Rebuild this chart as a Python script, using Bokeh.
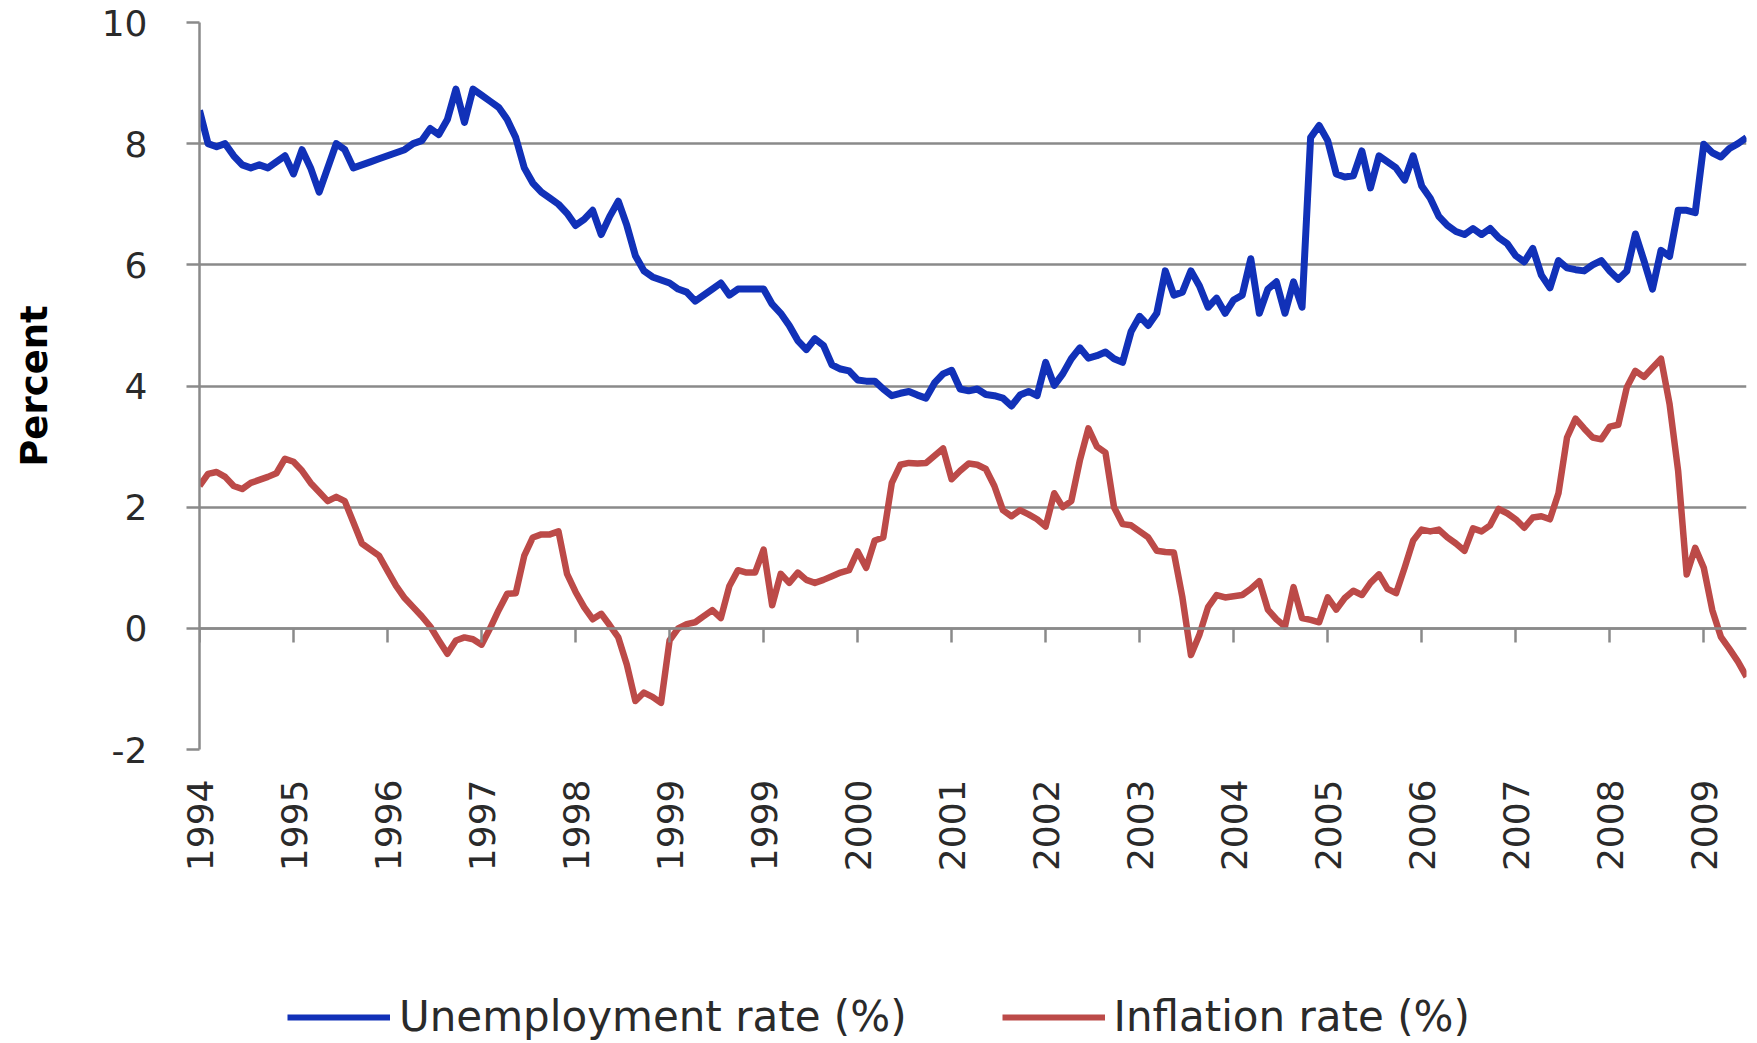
import math
from bokeh.plotting import figure
from bokeh.layouts import column
from bokeh.models import Range1d, LinearAxis, FixedTicker, Legend, LegendItem, ColumnDataSource
from bokeh.embed import file_html
from bokeh.resources import INLINE

# ---------------- data (monthly, from mid-1994) ----------------
year_labels = ["1994", "1995", "1996", "1997", "1998", "1999", "1999", "2000", "2001",
               "2002", "2003", "2004", "2005", "2006", "2007", "2008", "2009"]
label_every = 11  # a category label every 11 months

unemployment = [
    8.55, 8.0, 7.95, 8.0, 7.8, 7.65, 7.6, 7.65, 7.6, 7.7,
    7.8, 7.5, 7.9, 7.6, 7.2, 7.6, 8.0, 7.9, 7.6, 7.65,
    7.7, 7.75, 7.8, 7.85, 7.9, 8.0, 8.05, 8.25, 8.15, 8.4,
    8.9, 8.35, 8.9, 8.8, 8.7, 8.6, 8.4, 8.1, 7.6, 7.35,
    7.2, 7.1, 7.0, 6.85, 6.65, 6.75, 6.9, 6.5, 6.8, 7.05,
    6.65, 6.15, 5.9, 5.8, 5.75, 5.7, 5.6, 5.55, 5.4, 5.5,
    5.6, 5.7, 5.5, 5.6, 5.6, 5.6, 5.6, 5.35, 5.2, 5.0,
    4.75, 4.6, 4.78, 4.67, 4.35, 4.28, 4.25, 4.1, 4.08, 4.08,
    3.95, 3.84, 3.88, 3.91, 3.85, 3.8, 4.05, 4.2, 4.26, 3.95,
    3.92, 3.95, 3.86, 3.84, 3.8, 3.67, 3.85, 3.91, 3.84, 4.39,
    4.01, 4.2, 4.45, 4.63, 4.46, 4.5, 4.56, 4.45, 4.39, 4.9,
    5.15, 5.0, 5.2, 5.9, 5.5, 5.55, 5.9, 5.65, 5.3, 5.45,
    5.2, 5.42, 5.5, 6.1, 5.2, 5.6, 5.72, 5.2, 5.72, 5.3,
    8.1, 8.3, 8.05, 7.5, 7.45, 7.47, 7.88, 7.27, 7.8, 7.7,
    7.6, 7.4, 7.8, 7.3, 7.1, 6.8, 6.65, 6.55, 6.5, 6.6,
    6.5, 6.6, 6.45, 6.35, 6.15, 6.05, 6.27, 5.83, 5.62, 6.07,
    5.95, 5.92, 5.9, 6.0, 6.07, 5.9, 5.76, 5.9, 6.51, 6.07,
    5.6, 6.24, 6.14, 6.9, 6.9, 6.86, 7.99, 7.85, 7.78, 7.92,
    8.0, 8.1,
]

inflation = [
    2.35, 2.55, 2.58, 2.5, 2.35, 2.3, 2.4, 2.45, 2.5, 2.56,
    2.8, 2.75, 2.6, 2.4, 2.25, 2.1, 2.17, 2.1, 1.75, 1.4,
    1.3, 1.2, 0.95, 0.7, 0.5, 0.35, 0.2, 0.03, -0.2, -0.42,
    -0.2, -0.15, -0.18, -0.27, 0.0, 0.3, 0.57, 0.58, 1.2, 1.5,
    1.55, 1.55, 1.6, 0.9, 0.6, 0.35, 0.15, 0.24, 0.05, -0.15,
    -0.6, -1.2, -1.06, -1.13, -1.23, -0.2, 0.0, 0.07, 0.1, 0.2,
    0.3, 0.17, 0.7, 0.96, 0.92, 0.92, 1.3, 0.38, 0.9, 0.75,
    0.92, 0.8, 0.75, 0.8, 0.86, 0.92, 0.96, 1.27, 1.0, 1.45,
    1.5, 2.4, 2.7, 2.73, 2.72, 2.73, 2.85, 2.97, 2.46, 2.6,
    2.72, 2.7, 2.63, 2.35, 1.95, 1.85, 1.95, 1.88, 1.8, 1.68,
    2.23, 2.0, 2.1, 2.77, 3.3, 3.0, 2.9, 2.0, 1.72, 1.7,
    1.6, 1.5, 1.28, 1.26, 1.25, 0.51, -0.44, -0.1, 0.35, 0.55,
    0.51, 0.53, 0.55, 0.65, 0.78, 0.31, 0.15, 0.03, 0.68, 0.17,
    0.14, 0.1, 0.51, 0.31, 0.5, 0.62, 0.55, 0.75, 0.89, 0.65,
    0.58, 1.0, 1.45, 1.63, 1.6, 1.63, 1.5, 1.4, 1.28, 1.65,
    1.6, 1.7, 1.97, 1.9, 1.8, 1.66, 1.83, 1.85, 1.8, 2.23,
    3.15, 3.46, 3.3, 3.15, 3.12, 3.33, 3.36, 3.98, 4.25, 4.15,
    4.3, 4.45, 3.7, 2.6, 0.89, 1.33, 1.0, 0.3, -0.14, -0.34,
    -0.55, -0.8,
]

series_names = ["Unemployment rate (%)", "Inflation rate (%)"]
y_ticks = [-2, 0, 2, 4, 6, 8, 10]
y_title = "Percent"

# ---------------- styles ----------------
BLUE = "#1131B8"
RED = "#BC4A48"
GRID = "#8a8a8a"
TEXT = "#2a2a2a"
FONT = "DejaVu Sans"
W = 1757
H_MAIN = 923
H_LEG = 120

n = len(unemployment)
tick_pos = [label_every * k for k in range(len(year_labels))]

p = figure(width=W, height=H_MAIN, output_backend="svg", toolbar_location=None,
           x_range=Range1d(0, n - 1), y_range=Range1d(y_ticks[0], y_ticks[-1]),
           min_border_left=199, min_border_right=11, min_border_top=22, min_border_bottom=174)
p.outline_line_color = None
p.background_fill_color = "white"
p.border_fill_color = "white"

# grid
p.xgrid.visible = False
p.ygrid.ticker = FixedTicker(ticks=y_ticks)
p.ygrid.grid_line_color = GRID
p.ygrid.grid_line_width = 2.5

# y axis
ya = p.yaxis[0]
ya.ticker = FixedTicker(ticks=y_ticks)
ya.major_label_overrides = {t: str(t) for t in y_ticks}
ya.axis_line_color = GRID
ya.axis_line_width = 2.5
ya.major_tick_line_color = GRID
ya.major_tick_line_width = 2.5
ya.major_tick_out = 13
ya.major_tick_in = 0
ya.minor_tick_line_color = None
ya.major_label_standoff = 39
ya.major_label_text_font = FONT
ya.major_label_text_font_size = "36px"
ya.major_label_text_color = TEXT
ya.axis_label = y_title
ya.axis_label_text_font = FONT
ya.axis_label_text_font_size = "37px"
ya.axis_label_text_font_style = "bold"
ya.axis_label_text_color = "black"
ya.axis_label_standoff = 43

# x labels axis (below the plot)
xa = p.xaxis[0]
xa.ticker = FixedTicker(ticks=tick_pos)
xa.major_label_overrides = {t: lab for t, lab in zip(tick_pos, year_labels)}
xa.major_label_orientation = math.pi / 2
xa.axis_line_color = None
xa.major_tick_line_color = None
xa.minor_tick_line_color = None
xa.major_tick_out = 0
xa.major_tick_in = 0
xa.major_label_standoff = 30
xa.major_label_text_font = FONT
xa.major_label_text_font_size = "36px"
xa.major_label_text_color = TEXT

# category axis crossing at zero, ticks only
za = LinearAxis(fixed_location=0, ticker=FixedTicker(ticks=tick_pos),
                axis_line_color=GRID, axis_line_width=2.5,
                major_tick_line_color=GRID, major_tick_line_width=2.5,
                major_tick_out=14, major_tick_in=0, minor_tick_line_color=None,
                major_label_text_color=None)
p.add_layout(za, "below")

src = ColumnDataSource(dict(x=list(range(n)), u=unemployment, i=inflation[:n]))
p.line("x", "u", source=src, line_color=BLUE, line_width=7, line_join="round")
p.line("x", "i", source=src, line_color=RED, line_width=6.5, line_join="round")

# ---------------- legend strip ----------------
lg = figure(width=W, height=H_LEG, output_backend="svg", toolbar_location=None,
            x_range=Range1d(0, 1), y_range=Range1d(0, 1),
            x_axis_location=None, y_axis_location=None,
            min_border_left=0, min_border_right=0, min_border_top=0, min_border_bottom=0)
lg.outline_line_color = None
lg.xgrid.visible = False
lg.ygrid.visible = False
lg.border_fill_color = "white"
# legend keys share the series source; hidden so only their legend samples show
k_u = lg.line("x", "u", source=src, line_color=BLUE, line_width=6, visible=False)
k_i = lg.line("x", "i", source=src, line_color=RED, line_width=6, visible=False)
legend = Legend(items=[LegendItem(label=series_names[0], renderers=[k_u]),
                       LegendItem(label=series_names[1], renderers=[k_i])],
                location=(88, 2), orientation="horizontal", click_policy="none",
                border_line_color=None, background_fill_alpha=0,
                padding=0, margin=0, spacing=95, glyph_width=103, label_standoff=9,
                label_text_font=FONT, label_text_font_size="42px", label_text_color=TEXT)
lg.add_layout(legend, "center")

page = column(p, lg, spacing=0)
open("out.html", "w").write(file_html(page, INLINE))
